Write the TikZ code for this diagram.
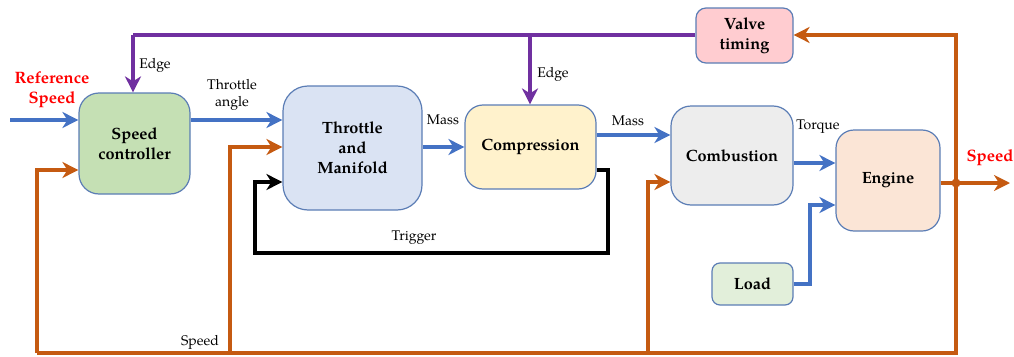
\documentclass[tikz,border=0pt]{standalone}
\usepackage{fontspec}
\setmainfont{TeX Gyre Pagella}
\usetikzlibrary{arrows.meta,calc}
\definecolor{bl}{HTML}{4472C4}
\definecolor{org}{HTML}{C55A11}
\definecolor{pur}{HTML}{7030A0}
\definecolor{bd}{HTML}{5B7DB5}
\definecolor{fsc}{HTML}{C5E0B4}
\definecolor{ftm}{HTML}{DAE3F3}
\definecolor{fcp}{HTML}{FFF2CC}
\definecolor{fcb}{HTML}{EDEDED}
\definecolor{fen}{HTML}{FBE5D6}
\definecolor{fvt}{HTML}{FFCCD0}
\definecolor{fld}{HTML}{E2EFDA}
\tikzset{
  blk/.style={draw=bd, line width=1.2pt, align=center, inner sep=0pt,
    font=\fontsize{16.3}{20}\selectfont\bfseries},
  lbl/.style={font=\fontsize{14}{17}\selectfont, align=center, inner sep=0pt},
  rlbl/.style={font=\fontsize{16.5}{20}\selectfont\bfseries, text=red, align=center, inner sep=0pt},
  tip/.style={-{Stealth[length=16pt,width=16pt,inset=5pt]}},
  arr/.style={line width=3.2pt, tip},
  ln/.style={line width=3.2pt},
}
\begin{document}
\begin{tikzpicture}[x=1pt,y=-1pt]
\useasboundingbox (0,0) rectangle (1014,356);
% blocks
\node[blk, fill=fsc, rounded corners=20pt, minimum width=111pt, minimum height=101pt] (SC) at (134.5,143.5) {Speed\\controller};
\node[blk, fill=ftm, rounded corners=25pt, minimum width=139pt, minimum height=124pt] (TM) at (352.5,148) {Throttle\\and\\Manifold};
\node[blk, fill=fcp, rounded corners=18pt, minimum width=131pt, minimum height=84pt] (CP) at (530.5,147) {Compression};
\node[blk, fill=fcb, rounded corners=20pt, minimum width=122pt, minimum height=99pt] (CB) at (732,155.5) {Combustion};
\node[blk, fill=fen, rounded corners=18pt, minimum width=104pt, minimum height=101pt] (EN) at (888,180.5) {Engine};
\node[blk, fill=fvt, rounded corners=10pt, minimum width=97pt, minimum height=55pt] (VT) at (744.5,35.5) {Valve\\timing};
\node[blk, fill=fld, rounded corners=8pt, minimum width=81pt, minimum height=42pt] (LD) at (752.5,284) {Load};
% coordinates
\coordinate (in) at (10,120);
\coordinate (out) at (1010,183);
\coordinate (j) at (956,183);
\coordinate (pc) at (133,35);
\coordinate (pb) at (530,35);
\coordinate (bl) at (37,353);
\coordinate (br) at (956,353);
% purple
\draw[ln, pur] (VT.west |- 0,35) -- (pc);
\draw[arr, pur] (pc) -- (SC.north -| pc);
\draw[arr, pur] (pb) -- (CP.north -| pb);
% blue
\draw[arr, bl] (in) -- (SC.west |- in);
\draw[arr, bl] (SC.east |- 0,120) -- (TM.west |- 0,120);
\draw[arr, bl] (TM.east |- 0,147) -- (CP.west |- 0,147);
\draw[arr, bl] (CP.east |- 0,135) -- (CB.west |- 0,135);
\draw[arr, bl] (CB.east |- 0,163) -- (EN.west |- 0,163);
\draw[arr, bl] (LD.east) -| (810,205) -- (EN.west |- 0,205);
% black trigger
\draw[arr, black] (CP.east |- 0,170) -| (608,253) -| (255,182) -- (TM.west |- 0,182);
% orange
\draw[arr, org] (EN.east |- out) -- (out);
\draw[arr, org] (j) |- (VT.east |- 0,35);
\draw[ln, org] (j) -- (br) -- (bl);
\draw[arr, org] (bl) |- (SC.west |- 0,170);
\draw[arr, org] (230,353) |- (TM.west |- 0,147);
\draw[arr, org] (648,353) |- (CB.west |- 0,182);
\fill[org] (j) circle (4.5pt);
% labels
\node[lbl] (l1) at (155,65) {Edge};
\node[lbl] (l2) at (553,74) {Edge};
\node[rlbl] (l3) at (52,90) {Reference\\Speed};
\node[lbl] (l4) at (232,95) {Throttle\\angle};
\node[lbl] (l5) at (443,120) {Mass};
\node[lbl] (l6) at (628,121) {Mass};
\node[lbl] (l7) at (818,127) {Torque};
\node[rlbl] (l8) at (990,158) {Speed};
\node[lbl] (l9) at (414,238) {Trigger};
\node[lbl] (l10) at (200,342) {Speed};
\end{tikzpicture}
\end{document}
